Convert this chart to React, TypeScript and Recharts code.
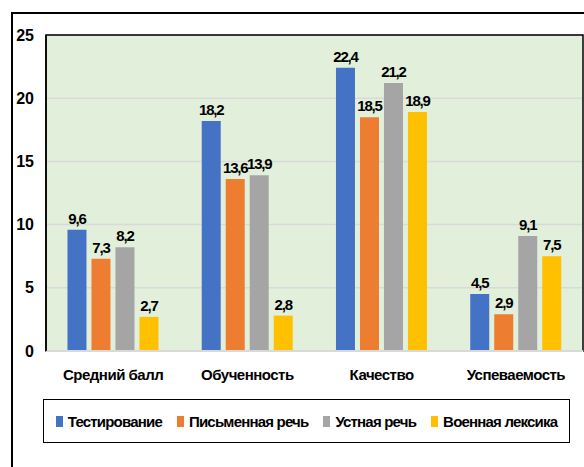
import React from 'react';
import { BarChart, Bar, XAxis, YAxis, CartesianGrid, LabelList, ReferenceArea } from 'recharts';

// categories and series
const categories = ['Средний балл', 'Обученность', 'Качество', 'Успеваемость'];
const seriesNames = ['Тестирование', 'Письменная речь', 'Устная речь', 'Военная лексика'];
const seriesColors = ['#4472C4', '#ED7D31', '#A5A5A5', '#FFC000'];
const testing = [9.6, 18.2, 22.4, 4.5];
const written = [7.3, 13.6, 18.5, 2.9];
const oral = [8.2, 13.9, 21.2, 9.1];
const military = [2.7, 2.8, 18.9, 7.5];
const yTicks = [0, 5, 10, 15, 20, 25];

const seriesValues = [testing, written, oral, military];
const keys = ['s0', 's1', 's2', 's3'];

const data = categories.map((name, i) => {
  const row: Record<string, string | number> = { name };
  keys.forEach((k, j) => {
    row[k] = seriesValues[j][i];
  });
  return row;
});

const font = '"Liberation Sans", Arial, sans-serif';
const fmt = (v: any) => String(v).replace('.', ',');

const App: React.FC = () => {
  return (
    <div style={{ position: 'absolute', left: 0, top: 0, width: 584, height: 467, overflow: 'hidden', background: '#fff', fontFamily: font }}>
      {/* outer frame, cut off at right and bottom like the source */}
      <div style={{ position: 'absolute', left: 11, top: 12, width: 620, height: 520, border: '2px solid #000', boxSizing: 'border-box' }} />

      <BarChart
        width={584}
        height={467}
        data={data}
        margin={{ top: 35, right: 1, bottom: 76, left: 0 }}
        barCategoryGap="16%"
        barGap={5}
        style={{ position: 'absolute', left: 0, top: 0 }}
      >
        <CartesianGrid vertical={false} stroke="#d9d9d9" strokeWidth={1.5} fill="#E2EFDA" />
        <ReferenceArea y1={0} y2={25} fill="none" stroke="#000" strokeWidth={1.5} />
        <XAxis
          dataKey="name"
          tickLine={false}
          tickSize={0}
          tickMargin={18}
          height={40}
          axisLine={{ stroke: '#d9d9d9', strokeWidth: 2 }}
          tick={{ fill: '#000', fontSize: 15, fontWeight: 700, fontFamily: font, letterSpacing: -0.5 }}
          interval={0}
        />
        <YAxis
          domain={[0, 25]}
          ticks={yTicks}
          width={46}
          tickLine={false}
          tickSize={0}
          tickMargin={12}
          axisLine={{ stroke: '#000', strokeWidth: 1.5 }}
          tick={{ fill: '#000', fontSize: 16, fontWeight: 700, fontFamily: font }}
        />
        {keys.map((k, j) => (
          <Bar key={k} dataKey={k} name={seriesNames[j]} fill={seriesColors[j]} isAnimationActive={false}>
            <LabelList
              dataKey={k}
              position="top"
              offset={6}
              formatter={fmt}
              style={{ fill: '#000', fontSize: 15, fontWeight: 700, fontFamily: font, letterSpacing: -1.2 }}
            />
          </Bar>
        ))}
      </BarChart>

      {/* legend box */}
      <div
        style={{
          position: 'absolute',
          left: 43,
          top: 399,
          width: 527,
          height: 44,
          border: '1.5px solid #000',
          boxSizing: 'border-box',
          display: 'flex',
          alignItems: 'center',
          justifyContent: 'center',
          gap: 15,
          fontSize: 15,
          fontWeight: 700,
          letterSpacing: -0.8,
          whiteSpace: 'nowrap',
          color: '#000',
        }}
      >
        {seriesNames.map((n, j) => (
          <div key={n} style={{ display: 'flex', alignItems: 'center' }}>
            <span style={{ display: 'inline-block', width: 7, height: 11, background: seriesColors[j], marginRight: 5 }} />
            <span>{n}</span>
          </div>
        ))}
      </div>
    </div>
  );
};

export default App;
